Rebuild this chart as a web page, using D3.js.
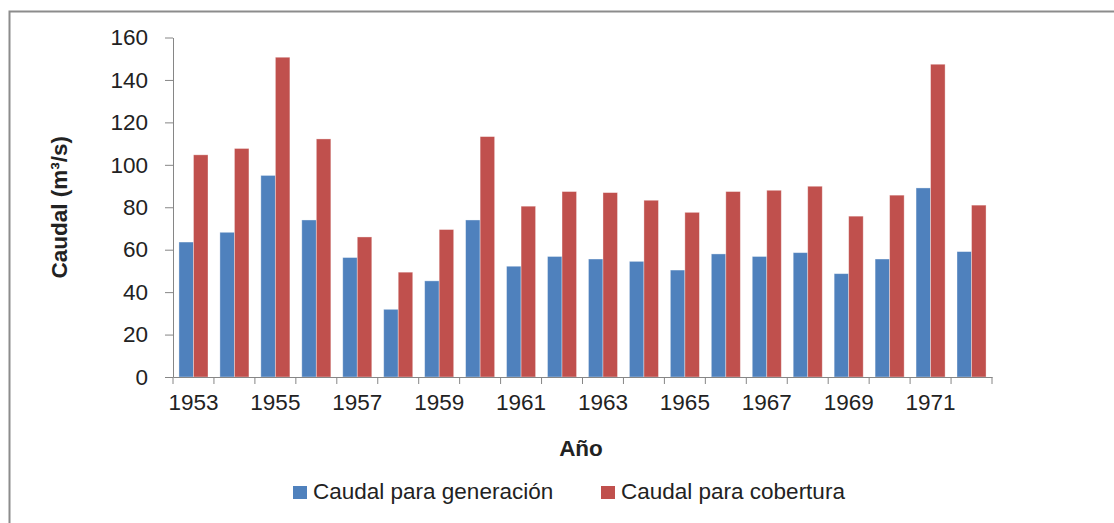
<!DOCTYPE html>
<html>
<head>
<meta charset="utf-8">
<script src="https://cdn.jsdelivr.net/npm/d3@7"></script>
<style>
  body { margin: 0; background: #fff; }
  text { font-family: "Liberation Sans", Arial, sans-serif; fill: #222; }
</style>
</head>
<body>
<div class="chart"></div>
<script>
var years = [1953, 1954, 1955, 1956, 1957, 1958, 1959, 1960, 1961, 1962,
             1963, 1964, 1965, 1966, 1967, 1968, 1969, 1970, 1971, 1972];
var generacion = [63.6, 68.2, 95, 74, 56.3, 31.9, 45.3, 74, 52.2, 56.8,
                  55.6, 54.5, 50.4, 58, 56.8, 58.6, 48.7, 55.6, 89.1, 59.1];
var cobertura = [104.7, 107.7, 150.7, 112.2, 66, 49.4, 69.5, 113.3, 80.5, 87.4,
                 86.9, 83.3, 77.6, 87.4, 88, 89.9, 75.8, 85.7, 147.4, 81];
var seriesNames = ['Caudal para generación', 'Caudal para cobertura'];
var seriesColors = ['#4f81bd', '#c0504d'];
var yTicks = [0, 20, 40, 60, 80, 100, 120, 140, 160];

var svgWidth = 1114;
var svgHeight = 523;
var plotLeft = 173, plotRight = 992, plotTop = 37.5, plotBottom = 377;

var svg = d3.select('.chart').append('svg')
    .attr('width', svgWidth)
    .attr('height', svgHeight);

// outer chart frame (runs off the right and bottom edge)
svg.append('rect')
    .attr('x', 9.5).attr('y', 11.5)
    .attr('width', 1130).attr('height', 530)
    .attr('fill', 'none')
    .attr('stroke', '#8c8c8c')
    .attr('stroke-width', 2);

var x0 = d3.scaleBand().domain(years).range([plotLeft, plotRight]).padding(0);
var x1 = d3.scaleBand().domain([0, 1]).range([0, x0.bandwidth()]).paddingOuter(0.41);
var y = d3.scaleLinear().domain([0, 160]).range([plotBottom, plotTop]);

var rows = years.map(function(yr, i) {
    return { year: yr, values: [generacion[i], cobertura[i]] };
});

var groups = svg.selectAll('g.year')
    .data(rows)
    .enter()
    .append('g')
    .attr('class', 'year')
    .attr('transform', function(d) { return 'translate(' + x0(d.year) + ',0)'; });

groups.selectAll('rect')
    .data(function(d) { return d.values; })
    .enter()
    .append('rect')
    .attr('x', function(d, i) { return x1(i); })
    .attr('y', function(d) { return y(d); })
    .attr('width', x1.bandwidth())
    .attr('height', function(d) { return plotBottom - y(d); })
    .attr('fill', function(d, i) { return seriesColors[i]; })
    .attr('stroke', 'rgba(255,255,255,0.45)')
    .attr('stroke-width', 0.8);

// y axis
var yAxis = svg.append('g')
    .attr('transform', 'translate(' + plotLeft + ',0)')
    .call(d3.axisLeft(y).tickValues(yTicks).tickSize(8).tickPadding(17).tickSizeOuter(0));
yAxis.select('.domain').attr('stroke', '#868686');
yAxis.selectAll('.tick line').attr('stroke', '#868686');
yAxis.selectAll('.tick text')
    .attr('font-size', '22.5px')
    .attr('font-family', '"Liberation Sans", Arial, sans-serif')
    .attr('fill', '#222');

// x axis: labels on every other year, ticks at category boundaries
var xAxis = svg.append('g')
    .attr('transform', 'translate(0,' + plotBottom + ')')
    .call(d3.axisBottom(x0)
        .tickValues(years.filter(function(d, i) { return i % 2 === 0; }))
        .tickSize(0).tickPadding(17).tickSizeOuter(0));
xAxis.select('.domain').attr('stroke', '#868686');
xAxis.selectAll('.tick text')
    .attr('font-size', '22.5px')
    .attr('font-family', '"Liberation Sans", Arial, sans-serif')
    .attr('fill', '#222');

var bounds = years.map(function(d) { return x0(d); }).concat([x0.range()[1]]);
svg.selectAll('line.xtick')
    .data(bounds)
    .enter()
    .append('line')
    .attr('class', 'xtick')
    .attr('x1', function(d) { return d; })
    .attr('x2', function(d) { return d; })
    .attr('y1', plotBottom)
    .attr('y2', plotBottom + 7)
    .attr('stroke', '#868686');

// axis titles
svg.append('text')
    .attr('x', 581)
    .attr('y', 456)
    .attr('text-anchor', 'middle')
    .attr('font-size', '22.5px')
    .attr('font-weight', 'bold')
    .text('Año');

svg.append('text')
    .attr('transform', 'translate(67,' + ((plotTop + plotBottom) / 2) + ') rotate(-90)')
    .attr('text-anchor', 'middle')
    .attr('font-size', '22.5px')
    .attr('font-weight', 'bold')
    .text('Caudal (m³/s)');

// legend
var legendX = [293, 601];
var legend = svg.selectAll('g.legend')
    .data(seriesNames)
    .enter()
    .append('g')
    .attr('class', 'legend')
    .attr('transform', function(d, i) { return 'translate(' + legendX[i] + ',486)'; });

legend.append('rect')
    .attr('width', 14)
    .attr('height', 13)
    .attr('fill', function(d, i) { return seriesColors[i]; });

legend.append('text')
    .attr('x', 20)
    .attr('y', 13)
    .attr('font-size', '22.5px')
    .text(function(d) { return d; });
</script>
</body>
</html>
